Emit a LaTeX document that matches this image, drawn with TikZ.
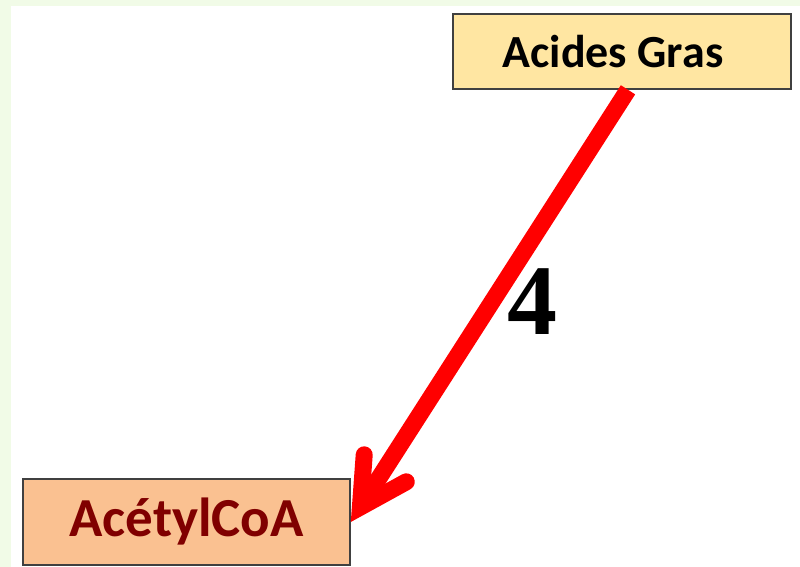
\documentclass[tikz,border=0pt]{standalone}
\usepackage{fontspec}
\setmainfont{Carlito}
\newfontfamily\numfont{Liberation Serif}
\usetikzlibrary{arrows.meta}

\definecolor{pagegreen}{RGB}{241,251,231}
\definecolor{gras}{RGB}{255,230,162}
\definecolor{acetyl}{RGB}{250,193,145}
\definecolor{boxline}{RGB}{64,64,64}
\definecolor{darkred}{RGB}{128,0,0}

\tikzset{
  box/.style={draw=boxline, line width=1.6pt, inner sep=0pt, font=\bfseries},
  redarrow/.style={draw=red, line width=17pt, line cap=butt,
    -{Straight Barb[length=46pt, width=50pt, line cap=round, line join=miter]},
    preaction={draw=black!35, transform canvas={shift={(2pt,-2pt)}}}},
}

\begin{document}
\begin{tikzpicture}[x=1pt, y=-1pt]
  % page background with a light green margin at left and top
  \fill[pagegreen] (0,0) rectangle (800,567);
  \fill[white] (11,6) rectangle (800,567);
  \useasboundingbox (0,0) rectangle (800,567);

  \node[box, fill=gras, minimum width=338pt, minimum height=75pt,
        font=\fontsize{46}{55}\selectfont\bfseries]
    (ag) at (622,51.5) {Acides Gras\hspace*{18pt}};

  \node[box, fill=acetyl, minimum width=327pt, minimum height=86pt,
        text=darkred, font=\fontsize{55}{66}\selectfont\bfseries]
    (acoa) at (186.5,522) {AcétylCoA};

  \draw[redarrow] ([xshift=6pt]ag.south) -- (acoa.east)
    node[pos=0.52, right=12pt, yshift=13pt,
         font=\numfont\fontsize{100}{100}\selectfont\bfseries] (step4) {4};
\end{tikzpicture}
\end{document}
